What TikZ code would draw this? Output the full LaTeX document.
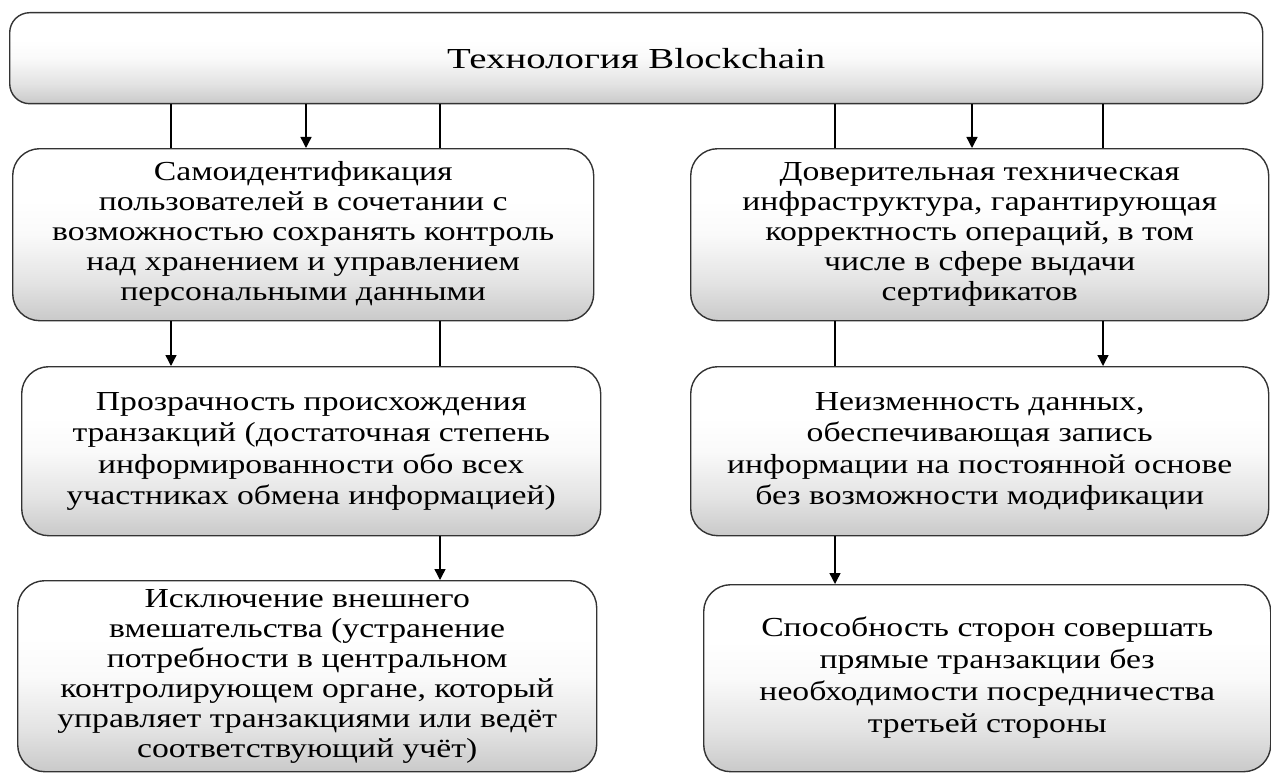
\documentclass[tikz,border=0pt]{standalone}
\usepackage{fontspec}
\setmainfont{Liberation Serif}
\usepackage{graphicx}
\usetikzlibrary{arrows.meta}
% white upper half, grey fade towards the lower edge
\pgfdeclareverticalshading{cardfade}{100bp}{color(0bp)=(black!21); color(25bp)=(black!21); color(36bp)=(black!11); color(50bp)=(black!2); color(60bp)=(white); color(100bp)=(white)}
% multi-line card caption, widened serif type; optional argument = line pitch
\newcommand{\cardtext}[2][30]{\scalebox{1.225}[1]{\fontsize{27.5}{#1}\selectfont\begin{tabular}{@{}c@{}}#2\end{tabular}}}
\begin{document}
\begin{tikzpicture}[x=1pt,y=-1pt,
  card/.style={draw=black!80, line width=1.4pt, rounded corners=27pt,
    shading=cardfade, inner sep=0pt, anchor=north west, text=black},
  link/.style={line width=1.4pt, draw=black},
  tip/.style={link, -{Triangle[width=11pt,length=11pt]}}]
\useasboundingbox (0,0) rectangle (1271,773);

% header
\node[card, rounded corners=20pt, minimum width=1253pt, minimum height=91pt] (top) at (9,12)
  {\scalebox{1.34}[1]{\fontsize{29}{33}\selectfont Технология Blockchain}};

% first row
\node[card, minimum width=581pt, minimum height=172pt] (b1l) at (12,148)
  {\cardtext[30]{Самоидентификация\\пользователей в сочетании с\\возможностью сохранять контроль\\над хранением и управлением\\персональными данными}};
\node[card, minimum width=578pt, minimum height=172pt] (b1r) at (690,148)
  {\cardtext[30]{Доверительная техническая\\инфраструктура, гарантирующая\\корректность операций, в том\\числе в сфере выдачи\\сертификатов}};

% second row
\node[card, minimum width=579pt, minimum height=169pt] (b2l) at (21,366)
  {\cardtext[31.5]{Прозрачность происхождения\\транзакций (достаточная степень\\информированности обо всех\\участниках обмена информацией)}};
\node[card, minimum width=578pt, minimum height=169pt] (b2r) at (690,366)
  {\cardtext[31.5]{Неизменность данных,\\обеспечивающая запись\\информации на постоянной основе\\без возможности модификации}};

% third row
\node[card, minimum width=579pt, minimum height=191pt] (b3l) at (17,580)
  {\cardtext[30]{Исключение внешнего\\вмешательства (устранение\\потребности в центральном\\контролирующем органе, который\\управляет транзакциями или ведёт\\соответствующий учёт)}};
\node[card, minimum width=567pt, minimum height=187pt] (b3r) at (703,584)
  {\cardtext[32]{Способность сторон совершать\\прямые транзакции без\\необходимости посредничества\\третьей стороны}};

% connector columns
\coordinate (xa) at (171,0);
\coordinate (xb) at (306,0);
\coordinate (xc) at (440,0);
\coordinate (xd) at (835,0);
\coordinate (xe) at (972,0);
\coordinate (xf) at (1103,0);

% header to first row
\draw[link] (xa |- top.south) -- (xa |- b1l.north);
\draw[tip]  (xb |- top.south) -- (xb |- b1l.north);
\draw[link] (xc |- top.south) -- (xc |- b1l.north);
\draw[link] (xd |- top.south) -- (xd |- b1r.north);
\draw[tip]  (xe |- top.south) -- (xe |- b1r.north);
\draw[link] (xf |- top.south) -- (xf |- b1r.north);

% first row to second row
\draw[tip]  (xa |- b1l.south) -- (xa |- b2l.north);
\draw[link] (xc |- b1l.south) -- (xc |- b2l.north);
\draw[link] (xd |- b1r.south) -- (xd |- b2r.north);
\draw[tip]  (xf |- b1r.south) -- (xf |- b2r.north);

% second row to third row
\draw[tip]  (xc |- b2l.south) -- (xc |- b3l.north);
\draw[tip]  (xd |- b2r.south) -- (xd |- b3r.north);
\end{tikzpicture}
\end{document}
